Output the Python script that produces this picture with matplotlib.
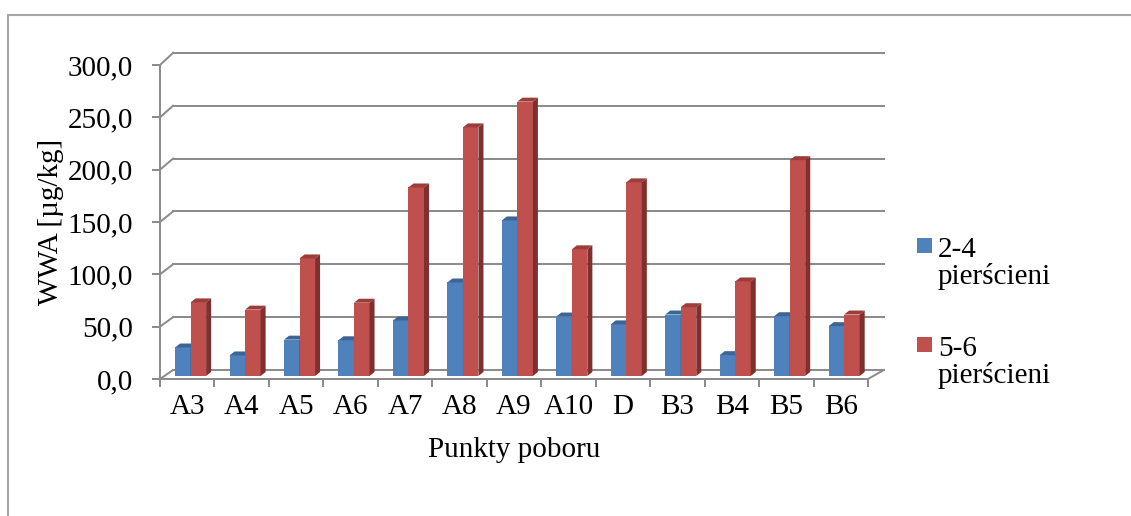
import numpy as np
import matplotlib.pyplot as plt
from matplotlib.patches import Polygon, Rectangle

# sampling points and PAH sums per ring group
punkty = ['A3', 'A4', 'A5', 'A6', 'A7', 'A8', 'A9', 'A10', 'D', 'B3', 'B4', 'B5', 'B6']
wwa_2_4 = [27.2, 19.6, 34.7, 34.1, 53.0, 89.3, 148.6, 56.8, 49.3, 58.7, 19.9, 57.1, 47.6]
wwa_5_6 = [70.3, 63.4, 112.3, 70.0, 180.1, 237.5, 262.1, 121.0, 185.0, 65.7, 90.3, 206.2, 58.7]
serie = ['2-4\npierścieni', '5-6\npierścieni']
y_ticks = [0, 50, 100, 150, 200, 250, 300]

plt.rcParams['font.family'] = ['Liberation Serif', 'DejaVu Serif']
FS = 21
PX = 0.72  # points per pixel at 100 dpi

W, H = 1131, 516
fig = plt.figure(figsize=(W / 100, H / 100), dpi=100)

# outer chart frame
fig.patches.append(Rectangle((8 / W, -0.05), 1.2, (H - 15) / H + 0.05,
                             transform=fig.transFigure, fill=False,
                             edgecolor='#a6a6a6', linewidth=1.5))

# front plane of the plot area
ax = fig.add_axes([160 / W, (H - 379) / H, 708 / W, 314 / H])
n = len(punkty)
ax.set_xlim(0, n)
ax.set_ylim(0, 300)
for s in ['top', 'right', 'bottom']:
    ax.spines[s].set_visible(False)
grid_c = '#8c8c8c'
LW = 2 * PX
ax.spines['left'].set_color(grid_c)
ax.spines['left'].set_linewidth(LW)

# back wall: offset in depth, slight perspective
wall_dx = 0.24
wall_lift = 8.6
wall_scale = 1.01
wall_right = n + 0.29

for v in y_ticks:
    yb = wall_lift + wall_scale * v
    ax.plot([0, wall_dx], [v, yb], color=grid_c, lw=LW, clip_on=False, zorder=1)
    ax.plot([wall_dx, wall_right], [yb, yb], color=grid_c, lw=LW, clip_on=False, zorder=1)

# floor front edge and right corner
ax.plot([0, n], [0, 0], color=grid_c, lw=LW, clip_on=False, zorder=1)
ax.plot([n, wall_right], [0, wall_lift], color=grid_c, lw=LW, clip_on=False, zorder=1)

ax.set_yticks(y_ticks)
ax.set_yticklabels([f'{v:.1f}'.replace('.', ',') for v in y_ticks], fontsize=FS)
ax.tick_params(axis='y', length=8 * PX, width=LW, color=grid_c, pad=19 * PX)

ax.set_xticks(np.arange(n + 1))
ax.set_xticklabels([])
ax.set_xticks(np.arange(n) + 0.5, minor=True)
ax.set_xticklabels(punkty, minor=True, fontsize=FS)
ax.tick_params(axis='x', which='major', length=8 * PX, width=LW, color=grid_c, direction='out')
ax.tick_params(axis='x', which='minor', length=0, pad=15 * PX)

ax.set_xlabel('Punkty poboru', fontsize=FS, labelpad=17 * PX)
ax.set_ylabel('WWA [µg/kg]', fontsize=FS, labelpad=4 * PX)

# 3D-looking columns
bar_w = 0.285
base = 2.9
side_dx = 0.092
top_dy = 3.8
kolory = [('#4f81bd', '#3a6595', '#2f5580'), ('#c0504d', '#9c3d3a', '#7f2f2d')]
offsets = [0.277, 0.562]

x = np.arange(n)
for k, vals in enumerate([wwa_2_4, wwa_5_6]):
    front, top_c, side_c = kolory[k]
    x0 = x + offsets[k]
    ax.bar(x0, vals, width=bar_w, bottom=base, align='edge', color=front,
           edgecolor='none', zorder=3 + k, clip_on=False)
    for xi, v in zip(x0, vals):
        yt = base + v
        top = Polygon([(xi, yt), (xi + bar_w, yt), (xi + bar_w + side_dx, yt + top_dy),
                       (xi + side_dx, yt + top_dy)], closed=True, facecolor=top_c,
                      edgecolor='none', zorder=3 + k, clip_on=False)
        side = Polygon([(xi + bar_w, base), (xi + bar_w + side_dx, base + top_dy),
                        (xi + bar_w + side_dx, yt + top_dy), (xi + bar_w, yt)], closed=True,
                       facecolor=side_c, edgecolor='none', zorder=3 + k, clip_on=False)
        ax.add_patch(top)
        ax.add_patch(side)

# legend on the right
leg_y = [238, 337]
for (front, _, _), label, yy in zip(kolory, serie, leg_y):
    fig.patches.append(Rectangle((917 / W, (H - yy - 15) / H), 15 / W, 15 / H,
                                 transform=fig.transFigure, facecolor=front, edgecolor='none'))
    fig.text(938 / W, (H - yy + 1) / H, label, fontsize=FS, va='top', ha='left',
             linespacing=1.0)

fig.savefig('out.png', dpi=100)
